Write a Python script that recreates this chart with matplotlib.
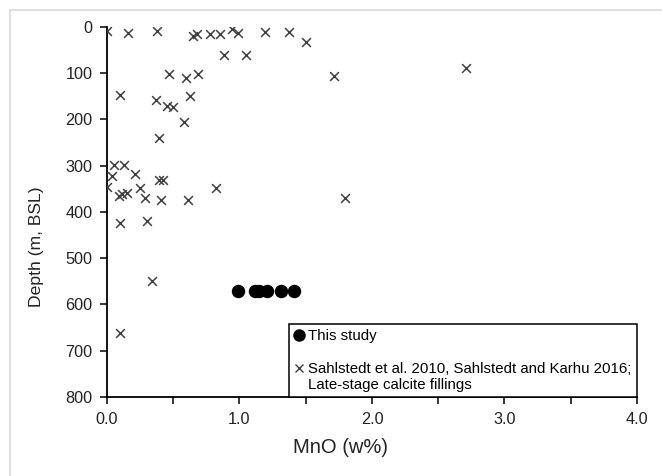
import matplotlib.pyplot as plt
from matplotlib.lines import Line2D
from matplotlib.legend_handler import HandlerLine2D
from matplotlib.patches import Rectangle
from matplotlib.ticker import MultipleLocator, FixedLocator

plt.rcParams['font.family'] = ['Liberation Sans', 'DejaVu Sans']

# this study (MnO w%, depth m)
study_mno = [0.99, 1.12, 1.15, 1.21, 1.31, 1.41]
study_depth = [571, 571, 571, 571, 571, 571]

# Sahlstedt et al. 2010, Sahlstedt and Karhu 2016
ref_mno = [0.00, 0.16, 0.38, 0.65, 0.68, 0.78, 0.85, 0.94, 0.99, 1.19, 1.37, 1.50,
           0.88, 1.05, 1.71, 2.71, 0.47, 0.60, 0.69, 0.10, 0.37, 0.45, 0.50, 0.63,
           0.58, 0.39, 0.05, 0.13, 0.04, 0.21, 0.00, 0.25, 0.09, 0.11, 0.15, 0.29,
           0.41, 0.61, 0.82, 0.39, 0.42, 0.10, 0.30, 0.34, 0.10, 1.80]
ref_depth = [8, 14, 9, 19, 15, 15, 15, 4, 12, 10, 11, 33,
             60, 60, 106, 89, 102, 111, 102, 146, 157, 171, 174, 149,
             205, 241, 298, 298, 322, 318, 345, 349, 365, 361, 359, 369,
             374, 374, 349, 331, 331, 423, 419, 549, 661, 370]

study_label = 'This study'
ref_label = 'Sahlstedt et al. 2010, Sahlstedt and Karhu 2016;\nLate-stage calcite fillings'


class TopLineHandler(HandlerLine2D):
    """ Puts the marker next to the first line of a two-line label. """

    def __init__(self, shift, **kw):
        super().__init__(**kw)
        self.shift = shift

    def create_artists(self, legend, orig_handle, xdescent, ydescent, width, height, fontsize, trans):
        artists = super().create_artists(legend, orig_handle, xdescent, ydescent, width, height,
                                         fontsize, trans)
        for a in artists:
            a.set_ydata([y + self.shift * fontsize for y in a.get_ydata()])
        return artists


fig = plt.figure(figsize=(6.62, 4.76), dpi=100)
ax = fig.add_axes([0.1616, 0.166, 0.8006, 0.7773])

# light grey chart-area frame
fig.patches.append(Rectangle((0.0155, -0.2), 1.2, 1.179, transform=fig.transFigure,
                             fill=False, edgecolor='#d9d9d9', linewidth=1.2))

ax.scatter(ref_mno, ref_depth, marker='x', s=40, color='#404040', linewidths=1.1, zorder=3)
ax.scatter(study_mno, study_depth, marker='o', s=75, color='black', zorder=4)

ax.set_xlim(0, 4)
ax.set_ylim(800, 0)
ax.set_xticks([0, 1, 2, 3, 4])
ax.xaxis.set_minor_locator(FixedLocator([0.5, 1.5, 2.5, 3.5]))
ax.set_xticklabels(['0.0', '1.0', '2.0', '3.0', '4.0'])
ax.yaxis.set_major_locator(MultipleLocator(100))

for side in ('top', 'right'):
    ax.spines[side].set_visible(False)
for side in ('left', 'bottom'):
    ax.spines[side].set_linewidth(1.3)
    ax.spines[side].set_color('black')

ax.tick_params(axis='both', which='both', direction='out', width=1.1, length=5,
               labelsize=11.7, colors='black', labelcolor='#222222')
ax.tick_params(axis='x', pad=6)
ax.tick_params(axis='y', pad=5.5)

ax.set_xlabel('MnO (w%)', fontsize=14.5, color='#222222')
ax.set_ylabel('Depth (m, BSL)', fontsize=12.6, color='#222222')
ax.xaxis.set_label_coords(0.44, -0.11)
ax.yaxis.set_label_coords(-0.119, 0.405)

h_study = Line2D([], [], marker='o', linestyle='none', color='black', markersize=8)
h_ref = Line2D([], [], marker='x', linestyle='none', color='#404040', markersize=6,
               markeredgewidth=1.0)
leg = ax.legend([h_study, h_ref], [study_label, ref_label], loc='lower right',
                bbox_to_anchor=(1.0, 0.0), borderaxespad=0, fontsize=10.8,
                handlelength=0.7, handletextpad=0.25, labelspacing=1.25,
                borderpad=0.35, fancybox=False, framealpha=1,
                handler_map={h_ref: TopLineHandler(0.6)})
leg.get_frame().set_edgecolor('black')
leg.get_frame().set_linewidth(1.1)

fig.savefig('out.png', dpi=100)
